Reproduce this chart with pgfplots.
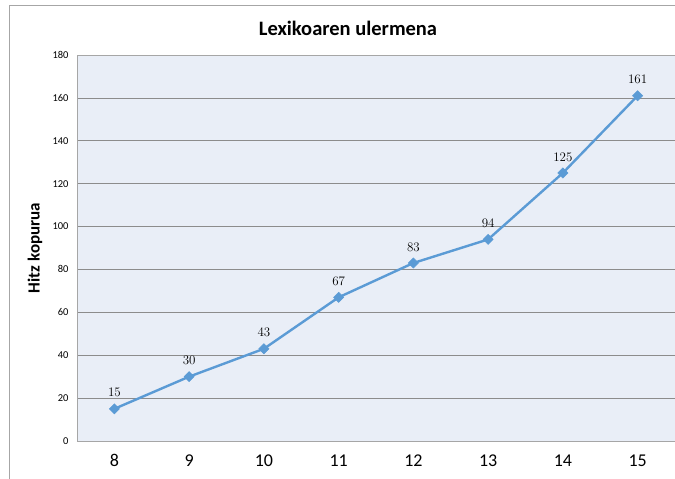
\documentclass[border=0pt]{standalone}
\usepackage{pgfplots}
\pgfplotsset{compat=1.18}
\usepackage{fontspec}
\newfontfamily\carlito{Carlito}
\definecolor{plotbg}{HTML}{E9EEF7}
\definecolor{serie}{HTML}{5B9BD5}
\definecolor{gridc}{HTML}{8C8C8C}
\definecolor{framec}{HTML}{A6A6A6}
\begin{document}
\begin{tikzpicture}
\begin{axis}[
    at={(77pt,38pt)}, anchor=south west,
    scale only axis, width=598pt, height=386pt,
    xmin=7.5, xmax=15.5,
    ymin=0, ymax=180,
    xtick={8,...,15},
    ytick={0,20,...,180},
    axis background/.style={fill=plotbg},
    axis line style={framec, line width=0.8pt},
    ymajorgrids,
    grid style={gridc, line width=0.6pt},
    major tick length=0pt,
    xticklabel style={font=\carlito\fontsize{18}{20}\selectfont, yshift=-10pt},
    yticklabel style={font=\carlito\fontsize{10.5}{12}\selectfont, xshift=-5pt},
    /pgf/number format/assume math mode=true,
    nodes near coords,
    every node near coord/.append style={font=\fontsize{13}{15}\selectfont, text=black, yshift=8pt},
    clip=false,
]
\addplot[serie, line width=2.4pt, mark=square*, mark size=3.6pt, mark options={fill=serie, draw=serie, rotate=45, line width=0.5pt}] coordinates {
    (8,15) (9,30) (10,43) (11,67) (12,83) (13,94) (14,125) (15,161)
};
\end{axis}
\draw[framec, line width=1pt] (9pt,0pt) -- (9pt,473pt) -- (675pt,473pt);
\node[font=\carlito\bfseries\fontsize{20.5}{24}\selectfont] at (348pt,451pt) {Lexikoaren ulermena};
\node[rotate=90, font=\carlito\bfseries\fontsize{17}{20}\selectfont] at (35pt,231pt) {Hitz kopurua};
\pgfresetboundingbox
\useasboundingbox (0pt,0pt) rectangle (675pt,479pt);
\end{tikzpicture}
\end{document}
